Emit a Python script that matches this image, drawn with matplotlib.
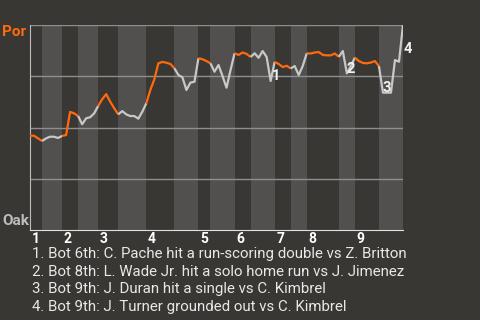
import matplotlib.pyplot as plt

plt.rcParams['font.family'] = ['Roboto', 'DejaVu Sans']

# plate appearances in each half inning (top 1, bot 1, top 2, ...)
half_pa = [3, 5, 4, 5, 5, 7, 7, 6, 3, 6, 4, 6, 4, 4, 8, 4, 6, 6]
innings = ["1", "2", "3", "4", "5", "6", "7", "8", "9"]

# Portland win probability (%) after each plate appearance
win_prob = [46.0, 46.0, 44.7, 43.4, 44.7, 45.5, 45.5, 44.9, 45.9, 46.3,
            57.6, 56.9, 55.6, 51.6, 54.5, 55.0, 56.9, 60.5, 63.8, 66.3,
            62.6, 59.4, 56.4, 58.0, 56.4, 55.6, 55.6, 54.3, 57.7, 61.8,
            68.3, 73.5, 81.3, 82.0, 81.6, 81.0, 78.9, 75.6, 74.5, 68.3,
            71.9, 72.3, 83.8, 83.3, 82.4, 81.3, 77.2, 80.5, 75.1, 69.4,
            78.0, 86.2, 85.4, 86.6, 85.9, 84.4, 86.2, 84.0, 87.3, 84.4,
            72.7, 82.0, 81.0, 79.5, 80.1, 78.8, 80.0, 75.6, 80.0, 86.2,
            86.1, 86.6, 86.8, 85.4, 85.2, 85.2, 86.1, 84.5, 87.3, 76.4,
            80.0, 84.1, 82.4, 81.5, 81.3, 81.7, 82.4, 80.0, 67.0, 67.0,
            67.0, 82.9, 82.1, 100.0]

# key plays: marker label, plate appearance, win prob at label
key_ids = ["1", "2", "3", "4"]
key_pa = [60.3, 79.0, 88.0, 93.2]
key_wp = [73.2, 76.6, 67.3, 86.3]
key_text = [
    "1. Bot 6th: C. Pache hit a run-scoring double vs Z. Britton",
    "2. Bot 8th: L. Wade Jr. hit a solo home run vs J. Jimenez",
    "3. Bot 9th: J. Duran hit a single vs C. Kimbrel",
    "4. Bot 9th: J. Turner grounded out vs C. Kimbrel",
]

bg = "#393733"
band = "#51504e"
orange = "#ff6a0d"
grey = "#c8c8c8"

fig = plt.figure(figsize=(4.8, 3.2), dpi=100, facecolor=bg)
ax = fig.add_axes([30 / 480, 90 / 320, 373 / 480, 205 / 320])
ax.set_facecolor(bg)

# half inning bands and line segments
start = 0
for h, n in enumerate(half_pa):
    end = start + n
    if h % 2 == 1:
        ax.axvspan(start, end, color=band, lw=0, zorder=0)
    else:
        ax.text(start + 0.4, -0.012, innings[h // 2], transform=ax.get_xaxis_transform(),
                ha="left", va="top", color="white", fontsize=10, fontweight="bold")
    xs = list(range(start, end + 1))
    ax.plot(xs, win_prob[start:end + 1], color=orange if h % 2 == 0 else grey,
            lw=1.6, zorder=3, solid_capstyle="butt")
    start = end

for g in [25, 50, 75, 100]:
    ax.axhline(g, color="#8e8e8e", lw=1, zorder=1)

for k, x, y in zip(key_ids, key_pa, key_wp):
    ax.text(x, y, k, ha="left", va="baseline", color="#f2f2f2", fontsize=10.5,
            fontweight="bold", zorder=4, clip_on=False)

ax.set_xlim(0, sum(half_pa))
ax.set_ylim(0, 100)
ax.set_xticks([])
ax.set_yticks([])
for s in ["top", "right"]:
    ax.spines[s].set_visible(False)
ax.spines["left"].set_color("#bdbdbd")
ax.spines["bottom"].set_color("#e0e0e0")

fig.text(2 / 480, 1 - 36 / 320, "Por", color=orange, fontsize=11, fontweight="bold",
         ha="left", va="baseline")
fig.text(2 / 480, 1 - 225 / 320, "Oak", color="#bdbdbd", fontsize=11, fontweight="bold",
         ha="left", va="baseline")

for i, t in enumerate(key_text):
    fig.text(32 / 480, 1 - (258.3 + 17.6 * i) / 320, t, color="#e8e8e8", fontsize=10.8,
             ha="left", va="baseline")

fig.savefig("out.png", dpi=100, facecolor=bg)
